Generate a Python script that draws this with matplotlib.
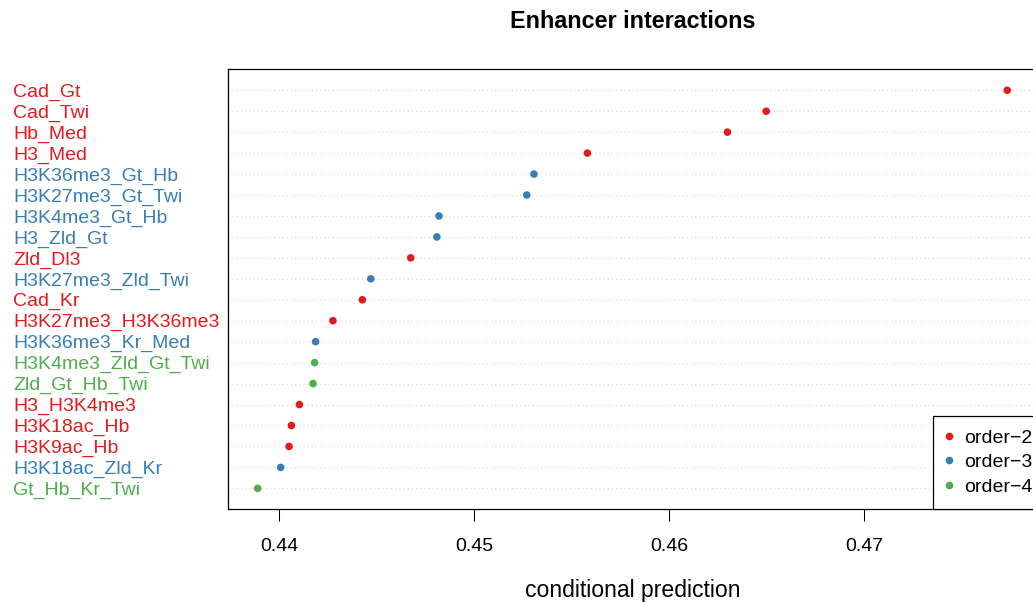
import matplotlib
matplotlib.use("Agg")
import matplotlib.pyplot as plt
from matplotlib.lines import Line2D

plt.rcParams['font.family'] = ['Liberation Sans', 'DejaVu Sans']

# Data (top to bottom as displayed)
labels = ["Cad_Gt", "Cad_Twi", "Hb_Med", "H3_Med", "H3K36me3_Gt_Hb",
          "H3K27me3_Gt_Twi", "H3K4me3_Gt_Hb", "H3_Zld_Gt", "Zld_Dl3",
          "H3K27me3_Zld_Twi", "Cad_Kr", "H3K27me3_H3K36me3", "H3K36me3_Kr_Med",
          "H3K4me3_Zld_Gt_Twi", "Zld_Gt_Hb_Twi", "H3_H3K4me3", "H3K18ac_Hb",
          "H3K9ac_Hb", "H3K18ac_Zld_Kr", "Gt_Hb_Kr_Twi"]
values = [0.47733, 0.46497, 0.46298, 0.45580, 0.45306,
          0.45269, 0.44819, 0.44808, 0.44674,
          0.44469, 0.44426, 0.44275, 0.44186,
          0.44181, 0.44173, 0.44103, 0.44062,
          0.44050, 0.44007, 0.43889]
orders = [2, 2, 2, 2, 3,
          3, 3, 3, 2,
          3, 2, 2, 3,
          4, 4, 2, 2,
          2, 3, 4]
order_names = ["order\u22122", "order\u22123", "order\u22124"]
order_colors = {2: "#E41A1C", 3: "#377EB8", 4: "#4DAF4A"}
xticks = [0.44, 0.45, 0.46, 0.47]

W, H = 1033, 603
fig = plt.figure(figsize=(W / 100, H / 100), dpi=100)
ax_left, ax_right, ax_top, ax_bot = 228, 1037, 69.3, 509.3
ax = fig.add_axes([ax_left / W, 1 - ax_bot / H, (ax_right - ax_left) / W, (ax_bot - ax_top) / H])

n = len(labels)
ypos = list(range(n, 0, -1))

ax.set_xlim(0.437369, 0.478856)
ax.set_ylim(0.0, 21.0)

for y in ypos:
    ax.axhline(y, color="#D3D3D3", lw=0.75, linestyle=(0, (1, 3)), zorder=1)

cols = [order_colors[o] for o in orders]
ax.scatter(values, ypos, s=30, c=cols, linewidths=0, zorder=3)

ax.set_yticks(ypos)
ax.set_yticklabels(labels, fontsize=14)
for lab, o in zip(ax.get_yticklabels(), orders):
    lab.set_color(order_colors[o])
    lab.set_ha("left")
ax.tick_params(axis="y", length=0, pad=(ax_left - 13) * 0.72)

ax.set_xticks(xticks)
ax.set_xticklabels([f"{t:.2f}" for t in xticks], fontsize=14)
ax.tick_params(axis="x", length=8.6, width=0.75, pad=11.8, color="black")

for sp in ax.spines.values():
    sp.set_linewidth(0.9)
    sp.set_color("black")

fig.text(632.5 / W, 1 - 21 / H, "Enhancer interactions", ha="center", va="center",
         fontsize=16.8, fontweight="bold")
fig.text(632.5 / W, 1 - 597 / H, "conditional prediction", ha="center", va="baseline",
         fontsize=16.6)

handles = [Line2D([0], [0], marker="o", linestyle="none", markersize=5.5,
                  markerfacecolor=order_colors[o], markeredgewidth=0)
           for o in (2, 3, 4)]
leg = ax.legend(handles, order_names, loc="lower left",
                bbox_to_anchor=(933.3 / W, 1 - ax_bot / H),
                bbox_transform=fig.transFigure, fontsize=14,
                frameon=True, fancybox=False, framealpha=1,
                borderpad=0.7, handlelength=0.2, handletextpad=0.68,
                labelspacing=0.35, borderaxespad=0)
leg.get_frame().set_edgecolor("black")
leg.get_frame().set_linewidth(0.9)

fig.savefig("out.png", dpi=100)
